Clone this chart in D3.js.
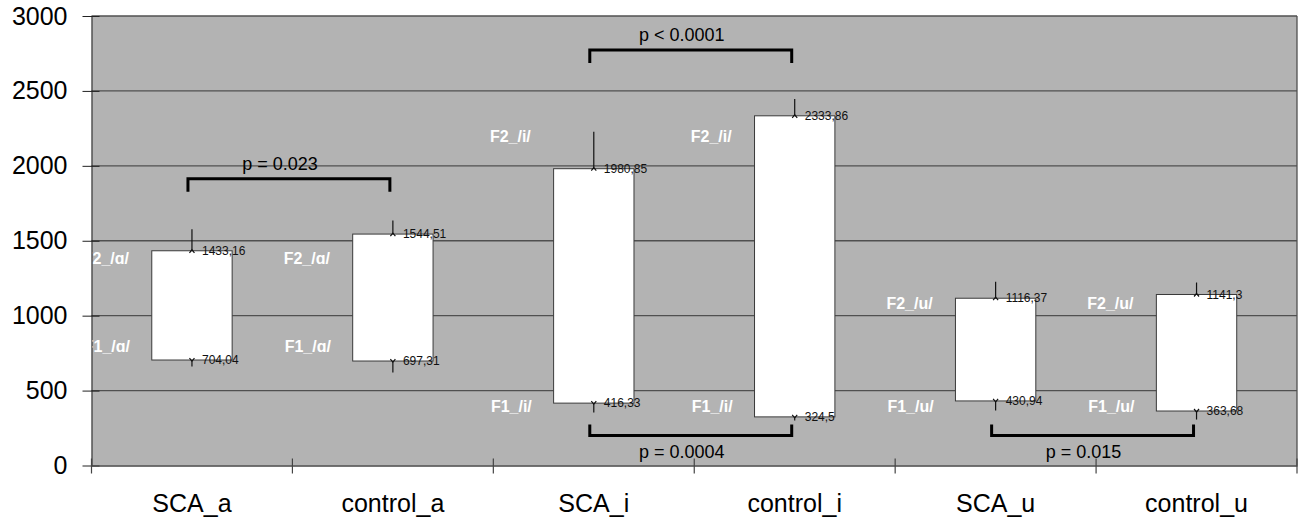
<!DOCTYPE html>
<html>
<head>
<meta charset="utf-8">
<script src="https://cdn.jsdelivr.net/npm/d3@7/dist/d3.min.js"></script>
<style>
  body { margin: 0; background: #fff; }
  svg { display: block; font-family: "Liberation Sans", Arial, Helvetica, sans-serif; }
</style>
</head>
<body>
<svg id="chart"></svg>
<script>
// categories and formant means (Hz)
const categories = ["SCA_a", "control_a", "SCA_i", "control_i", "SCA_u", "control_u"];
const vowels = ["ɑ", "ɑ", "i", "i", "u", "u"];
const f1 = [704.04, 697.31, 416.33, 324.5, 430.94, 363.68];
const f2 = [1433.16, 1544.51, 1980.85, 2333.86, 1116.37, 1141.3];
// standard deviations (error bars)
const f1Sd = [44, 77, 63, 25, 64, 57];
const f2Sd = [143, 90, 246, 113, 110, 80];
// where the white F1/F2 labels sit (in Hz)
const f1LabelAt = [797, 797, 397, 397, 397, 397];
const f2LabelAt = [1385, 1385, 2199, 2199, 1085, 1085];
// significance brackets
const pairs = [[0, 1], [2, 3], [2, 3], [4, 5]];
const pLabels = ["p = 0.023", "p < 0.0001", "p = 0.0004", "p = 0.015"];
const bracketAt = [1913, 2773, 200, 200];
const bracketTip = [1827, 2687, 273, 273];

const yTicks = [0, 500, 1000, 1500, 2000, 2500, 3000];

const width = 1301, height = 521;
const margin = { top: 16, right: 4, bottom: 55.5, left: 91.5 };

const svg = d3.select("#chart").attr("width", width).attr("height", height);

const x = d3.scaleBand()
  .domain(categories)
  .range([margin.left, width - margin.right])
  .padding(0);

const y = d3.scaleLinear()
  .domain([0, 3000])
  .range([height - margin.bottom, margin.top]);

const cx = (i) => x(categories[i]) + x.bandwidth() / 2;
const boxW = x.bandwidth() * 0.4;

// plot background
svg.append("rect")
  .attr("x", margin.left)
  .attr("y", margin.top)
  .attr("width", width - margin.right - margin.left)
  .attr("height", y(0) - margin.top)
  .attr("fill", "#b3b3b3");

// grid lines
svg.append("g")
  .selectAll("line")
  .data(yTicks.filter((d) => d > 0))
  .enter()
  .append("line")
  .attr("x1", margin.left)
  .attr("x2", width - margin.right)
  .attr("y1", (d) => y(d))
  .attr("y2", (d) => y(d))
  .attr("stroke", "#505050")
  .attr("stroke-width", 1.3);

// right border
svg.append("line")
  .attr("x1", width - margin.right)
  .attr("x2", width - margin.right)
  .attr("y1", margin.top)
  .attr("y2", y(0))
  .attr("stroke", "#505050")
  .attr("stroke-width", 1.3);

// y axis
const yAxis = svg.append("g")
  .attr("transform", `translate(${margin.left},0)`)
  .call(d3.axisLeft(y).tickValues(yTicks).tickFormat(d3.format("d"))
    .tickSizeInner(9).tickSizeOuter(0).tickPadding(15));
yAxis.select(".domain").attr("stroke", "#222");
yAxis.selectAll(".tick line").attr("x1", 8).attr("stroke", "#222");
yAxis.selectAll("text")
  .style("font-size", "25px")
  .attr("fill", "#000");

// x axis (ticks between categories)
const xAxis = svg.append("g")
  .attr("transform", `translate(0,${y(0)})`)
  .call(d3.axisBottom(x).tickSize(0).tickSizeOuter(0));
xAxis.select(".domain").attr("stroke", "#444").attr("stroke-width", 1.3);
xAxis.selectAll(".tick text")
  .attr("y", 29)
  .style("font-size", "25px")
  .attr("fill", "#000");

svg.append("g")
  .selectAll("line")
  .data(categories.map((c) => x(c)).concat([x.range()[1]]))
  .enter()
  .append("line")
  .attr("x1", (d) => d)
  .attr("x2", (d) => d)
  .attr("y1", y(0) - 7)
  .attr("y2", y(0) + 8)
  .attr("stroke", "#444")
  .attr("stroke-width", 1.2);

// boxes from F1 to F2
svg.append("g")
  .selectAll("rect")
  .data(categories)
  .enter()
  .append("rect")
  .attr("x", (d, i) => cx(i) - boxW / 2)
  .attr("y", (d, i) => y(f2[i]))
  .attr("width", boxW)
  .attr("height", (d, i) => y(f1[i]) - y(f2[i]))
  .attr("fill", "#fff")
  .attr("stroke", "#3a3a3a")
  .attr("stroke-width", 1);

// error bars
const err = svg.append("g").attr("stroke", "#111").attr("fill", "none");
categories.forEach((c, i) => {
  const px = cx(i);
  err.append("line")
    .attr("x1", px).attr("x2", px)
    .attr("y1", y(f2[i])).attr("y2", y(f2[i] + f2Sd[i]))
    .attr("stroke-width", 1.2);
  err.append("path")
    .attr("d", `M${px - 2.5},${y(f2[i]) + 2}L${px},${y(f2[i]) - 1}L${px + 2.5},${y(f2[i]) + 2}`)
    .attr("stroke-width", 1.2);
  err.append("line")
    .attr("x1", px).attr("x2", px)
    .attr("y1", y(f1[i])).attr("y2", y(f1[i] - f1Sd[i]))
    .attr("stroke-width", 1.2);
  err.append("path")
    .attr("d", `M${px - 2.5},${y(f1[i]) - 2}L${px},${y(f1[i]) + 1}L${px + 2.5},${y(f1[i]) - 2}`)
    .attr("stroke-width", 1.2);
});

// value labels
const fmt = (v) => String(v).replace(".", ",");
const vals = svg.append("g")
  .style("font-size", "12px")
  .attr("fill", "#111");
categories.forEach((c, i) => {
  vals.append("text")
    .attr("x", cx(i) + 10)
    .attr("y", y(f2[i]))
    .attr("dy", "0.35em")
    .text(fmt(f2[i]));
  vals.append("text")
    .attr("x", cx(i) + 10)
    .attr("y", y(f1[i]))
    .attr("dy", "0.35em")
    .text(fmt(f1[i]));
});

// white F1 / F2 labels, clipped to plot area
svg.append("clipPath")
  .attr("id", "plotClip")
  .append("rect")
  .attr("x", margin.left + 1)
  .attr("y", margin.top)
  .attr("width", width - margin.right - margin.left)
  .attr("height", y(0) - margin.top);

const fl = svg.append("g")
  .attr("clip-path", "url(#plotClip)")
  .style("font-size", "16px")
  .style("font-weight", "bold")
  .attr("fill", "#fff")
  .attr("text-anchor", "end");
categories.forEach((c, i) => {
  fl.append("text")
    .attr("x", cx(i) - 63)
    .attr("y", y(f2LabelAt[i]))
    .attr("dy", "0.35em")
    .text(`F2_/${vowels[i]}/`);
  fl.append("text")
    .attr("x", cx(i) - 62)
    .attr("y", y(f1LabelAt[i]))
    .attr("dy", "0.35em")
    .text(`F1_/${vowels[i]}/`);
});

// significance brackets
const br = svg.append("g");
pairs.forEach((p, k) => {
  const x1 = cx(p[0]) - 4, x2 = cx(p[1]) - 3;
  const yb = y(bracketAt[k]), yt = y(bracketTip[k]);
  br.append("path")
    .attr("d", `M${x1},${yt}L${x1},${yb}L${x2},${yb}L${x2},${yt}`)
    .attr("fill", "none")
    .attr("stroke", "#000")
    .attr("stroke-width", 3);
  const above = bracketTip[k] < bracketAt[k];
  br.append("text")
    .attr("x", (x1 + x2) / 2 - 9)
    .attr("y", above ? yb - 9 : yb + 22)
    .attr("text-anchor", "middle")
    .style("font-size", "18px")
    .attr("fill", "#000")
    .text(pLabels[k]);
});
</script>
</body>
</html>
